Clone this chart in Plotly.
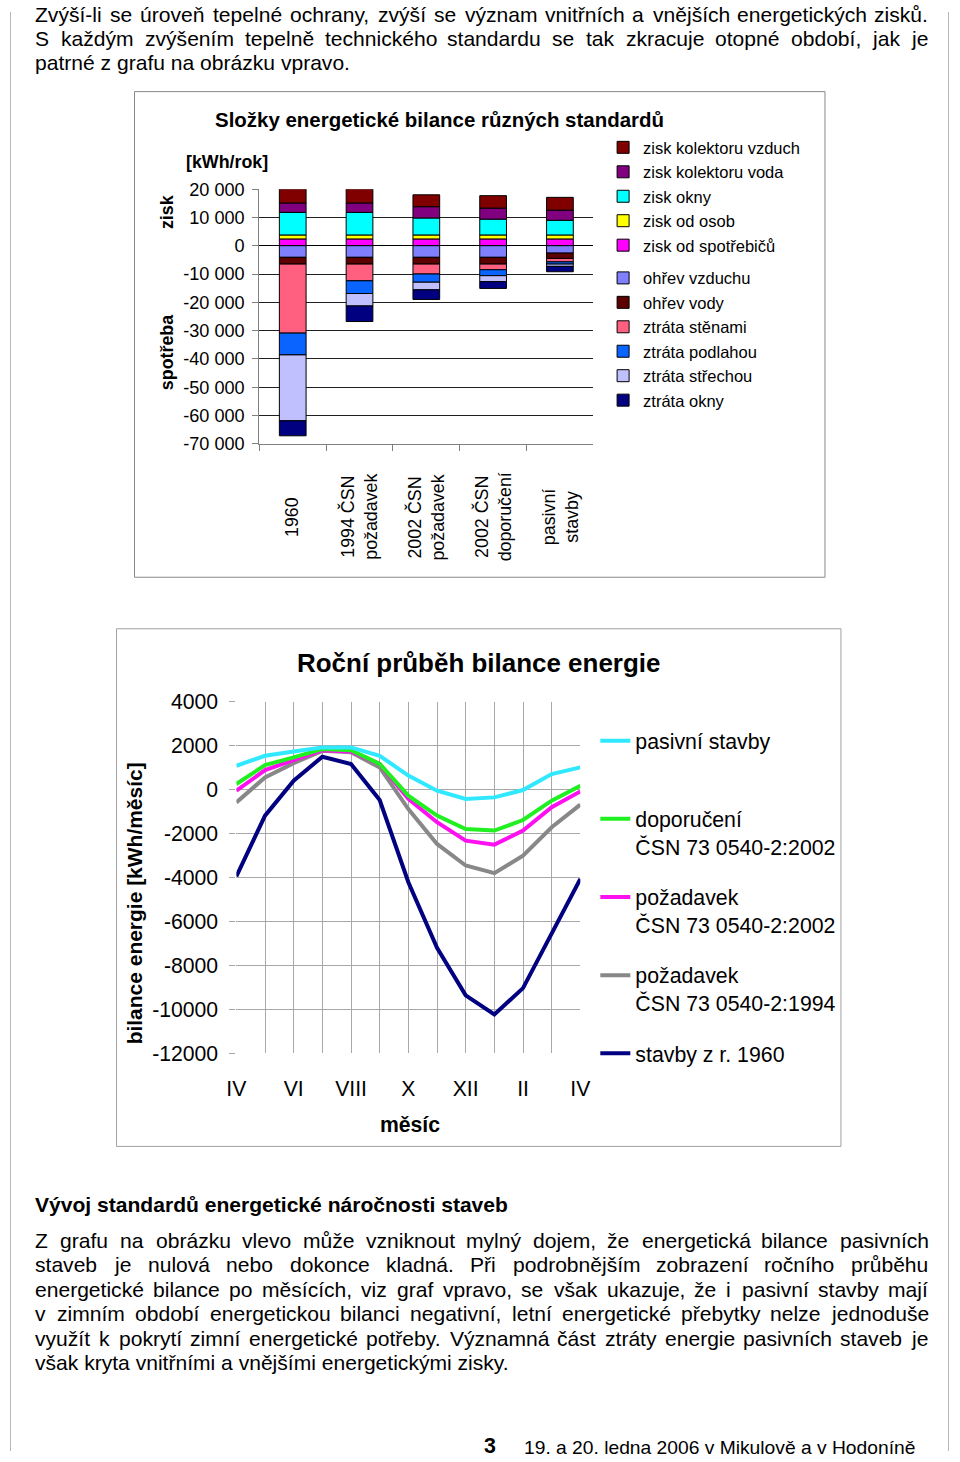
import plotly.graph_objects as go

W, H = 960, 1462
FONT = "Liberation Sans, Arial, sans-serif"

# the photographed picture shows the figure with a small border and slightly
# shrunk; these constants map reference-pixel positions onto figure pixels
AX, SX = 9.8, 0.9796
AY, SY = 11.9, 0.984
S = 0.982

# ---------------- data: top chart (annual components, kWh/rok) ----------------
standards = ["1960", "1994 ČSN<br>požadavek", "2002 ČSN<br>požadavek",
             "2002 ČSN<br>doporučení", "pasivní<br>stavby"]

# gains (stacked upward from 0, listed bottom -> top)
zisk_spotrebicu = [2400, 2400, 2400, 2400, 2400]
zisk_osob = [1400, 1400, 1400, 1400, 1400]
zisk_okny = [8000, 8000, 6000, 5600, 5200]
zisk_kolektoru_voda = [3300, 3300, 4000, 3900, 3600]
zisk_kolektoru_vzduch = [5000, 5000, 4200, 4400, 4500]

# consumption / losses (stacked downward from 0, listed top -> bottom)
ohrev_vzduchu = [-4100, -4100, -4100, -4100, -2600]
ohrev_vody = [-2400, -2400, -2400, -2400, -1900]
ztrata_stenami = [-24400, -5900, -3500, -2000, -1200]
ztrata_podlahou = [-7700, -4500, -2900, -2100, -800]
ztrata_strechou = [-23300, -4400, -2700, -2100, -800]
ztrata_okny = [-5300, -5500, -3400, -2400, -1900]

bar_tick_vals = [20000, 10000, 0, -10000, -20000, -30000, -40000, -50000, -60000, -70000]
bar_tick_text = ["20 000", "10 000", "0", "-10 000", "-20 000", "-30 000",
                 "-40 000", "-50 000", "-60 000", "-70 000"]

# ---------------- data: bottom chart (monthly balance, kWh/měsíc) ----------------
month_idx = [0, 1, 2, 3, 4, 5, 6, 7, 8, 9, 10, 11, 12]
month_labels = ["IV", "", "VI", "", "VIII", "", "X", "", "XII", "", "II", "", "IV"]

pasivni_stavby = [1090, 1545, 1740, 1925, 1925, 1545, 640, -45, -420, -350, -15, 710, 1015]
doporuceni_2002 = [260, 1120, 1470, 1850, 1800, 1170, -270, -1180, -1790, -1860, -1380, -500, 180]
pozadavek_2002 = [-45, 890, 1350, 1800, 1740, 1170, -420, -1480, -2320, -2500, -1860, -800, -80]
pozadavek_1994 = [-580, 560, 1210, 1770, 1700, 1010, -880, -2470, -3450, -3800, -3000, -1710, -680]
stavby_1960 = [-3950, -1180, 410, 1500, 1170, -470, -4210, -7200, -9360, -10230, -9030, -6560, -4060]

bal_tick_vals = [4000, 2000, 0, -2000, -4000, -6000, -8000, -10000, -12000]
bal_tick_text = ["4000", "2000", "0", "-2000", "-4000", "-6000", "-8000", "-10000", "-12000"]

# ---------------- page text ----------------
body_top = [
    "Zvýší-li se úroveň tepelné ochrany, zvýší se význam vnitřních a vnějších energetických zisků.",
    "S každým zvýšením tepelně technického standardu se tak zkracuje otopné období, jak je",
    "patrné z grafu na obrázku vpravo.",
]
heading = "Vývoj standardů energetické náročnosti staveb"
body_bottom = [
    "Z grafu na obrázku vlevo může vzniknout mylný dojem, že energetická bilance pasivních",
    "staveb je nulová nebo dokonce kladná. Při podrobnějším zobrazení ročního průběhu",
    "energetické bilance po měsících, viz graf vpravo, se však ukazuje, že i pasivní stavby mají",
    "v zimním období energetickou bilanci negativní, letní energetické přebytky nelze jednoduše",
    "využít k pokrytí zimní energetické potřeby. Významná část ztráty energie pasivních staveb je",
    "však kryta vnitřními a vnějšími energetickými zisky.",
]
footer_page = "3"
footer_text = "19. a 20. ledna 2006 v Mikulově a v Hodoníně"

# Arial / Liberation Sans advance widths (1/1000 em), used to justify lines
ADV = {' ': 278, ',': 278, '.': 278, '-': 333, ':': 278,
       'A': 667, 'B': 667, 'C': 722, 'D': 722, 'E': 667, 'F': 611, 'G': 778, 'H': 722,
       'I': 278, 'J': 500, 'K': 667, 'L': 556, 'M': 833, 'N': 722, 'O': 778, 'P': 667,
       'Q': 778, 'R': 722, 'S': 667, 'T': 611, 'U': 722, 'V': 667, 'W': 944, 'X': 667,
       'Y': 667, 'Z': 611,
       'a': 556, 'b': 556, 'c': 500, 'd': 556, 'e': 556, 'f': 278, 'g': 556, 'h': 556,
       'i': 222, 'j': 222, 'k': 500, 'l': 222, 'm': 833, 'n': 556, 'o': 556, 'p': 556,
       'q': 556, 'r': 333, 's': 500, 't': 278, 'u': 556, 'v': 500, 'w': 722, 'x': 500,
       'y': 500, 'z': 500,
       'á': 556, 'é': 556, 'í': 278, 'ó': 556, 'ú': 556, 'ý': 500, 'č': 500, 'ě': 556,
       'ň': 556, 'ř': 333, 'š': 500, 'ů': 556, 'ž': 500, 'Č': 722, 'Š': 667, 'Ž': 611}


def fx(x):
    return (x - AX) / SX


def fy(y):
    return (y - AY) / SY


def px(x):
    return fx(x) / W


def py(y):
    return 1 - fy(y) / H


def fs(v):
    return v / S


fig = go.Figure()

# ---- stacked bars ----
bar_series = [
    ("zisk od spotřebičů", zisk_spotrebicu, "#FF00FF", 5, "legend"),
    ("zisk od osob", zisk_osob, "#FFFF00", 4, "legend"),
    ("zisk okny", zisk_okny, "#00FFFF", 3, "legend"),
    ("zisk kolektoru voda", zisk_kolektoru_voda, "#800080", 2, "legend"),
    ("zisk kolektoru vzduch", zisk_kolektoru_vzduch, "#800000", 1, "legend"),
    ("ohřev vzduchu", ohrev_vzduchu, "#8080FF", 6, "legend3"),
    ("ohřev vody", ohrev_vody, "#5C0000", 7, "legend3"),
    ("ztráta stěnami", ztrata_stenami, "#FF6080", 8, "legend3"),
    ("ztráta podlahou", ztrata_podlahou, "#0A64FF", 9, "legend3"),
    ("ztráta střechou", ztrata_strechou, "#C0C0FF", 10, "legend3"),
    ("ztráta okny", ztrata_okny, "#000080", 11, "legend3"),
]
for name, vals, col, rank, leg in bar_series:
    fig.add_trace(go.Bar(
        x=standards, y=vals, name=name, xaxis="x", yaxis="y",
        marker=dict(color=col, line=dict(color="black", width=1)),
        width=0.4, legend=leg, legendrank=rank, hoverinfo="skip",
    ))

# ---- monthly lines ----
line_series = [
    ("stavby z r. 1960", stavby_1960, "#000080", 5),
    ("požadavek<br>ČSN 73 0540-2:1994", pozadavek_1994, "#888888", 4),
    ("požadavek<br>ČSN 73 0540-2:2002", pozadavek_2002, "#FF10F0", 3),
    ("doporučení<br>ČSN 73 0540-2:2002", doporuceni_2002, "#20F020", 2),
    ("pasivní stavby<br> ", pasivni_stavby, "#30E8FF", 1),
]
for name, vals, col, rank in line_series:
    fig.add_trace(go.Scatter(
        x=month_idx, y=vals, name=name, mode="lines", xaxis="x2", yaxis="y2",
        line=dict(color=col, width=4), legend="legend2", legendrank=rank,
        legendgroup=name, hoverinfo="skip",
    ))

# ---- annotations ----
ann = []


def text(x, y, s, size, bold=False, xanchor="left", angle=0, color="black", pad=1):
    ann.append(dict(
        x=px(x), y=py(y), xref="paper", yref="paper", showarrow=False,
        text=("<b>%s</b>" % s) if bold else s, xanchor=xanchor, yanchor="middle",
        textangle=angle, borderpad=pad, font=dict(family=FONT, size=fs(size), color=color),
    ))


def adv(s, size):
    return sum(ADV.get(c, 556) for c in s) * size / 1000.0


def paragraph(lines, y0, step, size, left, right):
    for i, line in enumerate(lines):
        y = y0 + i * step
        words = line.split(" ")
        if i == len(lines) - 1 or len(words) < 2:
            text(left, y, line, size, pad=0)
            continue
        natural = sum(adv(w, size) for w in words)
        gap = (right - left - natural) / (len(words) - 1)
        x = left
        for w in words:
            text(x, y, w, size, pad=0)
            x += adv(w, size) + gap


BODY = 20.7
paragraph(body_top, 14, 24.3, BODY, 34, 927)
text(34, 1204, heading, BODY, bold=True, pad=0)
paragraph(body_bottom, 1240, 24.4, BODY, 34, 927)

text(491, 1446, footer_page, 21, bold=True, xanchor="center")
text(523, 1447, footer_text, 18.9)

# top chart texts
text(440, 119, "Složky energetické bilance různých standardů", 20.1, bold=True, xanchor="center")
text(184, 162, "[kWh/rok]", 17.5, bold=True)
text(167, 212, "zisk", 17.5, bold=True, xanchor="center", angle=-90)
text(167, 352, "spotřeba", 17.5, bold=True, xanchor="center", angle=-90)
for i, s in enumerate(standards):
    ann.append(dict(x=i, y=py(517), xref="x", yref="paper", showarrow=False,
                    text=s, textangle=-90, xanchor="center", yanchor="middle",
                    font=dict(family=FONT, size=fs(17.5), color="black")))

# bottom chart texts
text(479, 663, "Roční průběh bilance energie", 25.5, bold=True, xanchor="center")
text(134, 903, "bilance energie [kWh/měsíc]", 20.6, bold=True, xanchor="center", angle=-90)
text(410, 1124, "měsíc", 20.8, bold=True, xanchor="center")

# ---- frames / page borders ----
shapes = [
    dict(type="rect", xref="paper", yref="paper", x0=px(134.5), x1=px(826), y0=py(577), y1=py(91.5),
         line=dict(color="#8a8a8a", width=1)),
    dict(type="rect", xref="paper", yref="paper", x0=px(116.5), x1=px(842), y0=py(1146), y1=py(628.5),
         line=dict(color="#a0a0a0", width=1)),
    dict(type="line", xref="paper", yref="paper", x0=max(px(4.5), 0.5 / W), x1=max(px(4.5), 0.5 / W),
         y0=0, y1=1, line=dict(color="#b8b8b8", width=1)),
    dict(type="line", xref="paper", yref="paper", x0=min(px(956.5), 1 - 0.5 / W),
         x1=min(px(956.5), 1 - 0.5 / W), y0=0, y1=1, line=dict(color="#b8b8b8", width=1)),
]

leg_font = dict(family=FONT, size=16.5, color="black")

fig.update_layout(
    width=W, height=H, autosize=False,
    margin=dict(l=0, r=0, t=0, b=0),
    paper_bgcolor="white", plot_bgcolor="white",
    font=dict(family=FONT, color="black"),
    barmode="relative", bargap=0.6,
    showlegend=True,
    xaxis=dict(domain=[px(259.5), px(594)], type="category", range=[-0.5, 4.5],
               anchor="y", showticklabels=False, ticks="outside", tickson="boundaries",
               ticklen=6, tickcolor="#808080", showline=True, linecolor="#808080",
               linewidth=1, showgrid=False, fixedrange=True),
    yaxis=dict(domain=[py(443.5), py(189)], range=[-70000, 20000], anchor="x",
               tickvals=bar_tick_vals, ticktext=bar_tick_text,
               tickfont=dict(family=FONT, size=fs(17.8), color="black"),
               ticks="outside", ticklen=6, tickcolor="#808080",
               showline=True, linecolor="#808080", linewidth=1,
               showgrid=True, gridcolor="#202020", gridwidth=1,
               zeroline=True, zerolinecolor="black", zerolinewidth=1.5,
               ticklabelstandoff=4, fixedrange=True),
    xaxis2=dict(domain=[px(236.5), px(581)], range=[0, 12], anchor="y2",
                tickvals=month_idx, ticktext=month_labels,
                tickfont=dict(family=FONT, size=fs(20.8), color="black"),
                ticks="", showline=False, showgrid=True, gridcolor="#a8a8a8",
                gridwidth=1, zeroline=False, ticklabelstandoff=20, fixedrange=True),
    yaxis2=dict(domain=[py(1053), py(701.5)], range=[-12000, 4000], anchor="x2",
                tickvals=bal_tick_vals, ticktext=bal_tick_text,
                tickfont=dict(family=FONT, size=fs(20.8), color="black"),
                ticks="outside", ticklen=6, tickcolor="#a8a8a8",
                showline=False, showgrid=True, gridcolor="#a8a8a8", gridwidth=1,
                zeroline=False, ticklabelstandoff=7, fixedrange=True),
    legend=dict(x=px(603.8), y=py(130), xanchor="left", yanchor="top",
                font=leg_font, traceorder="normal",
                bgcolor="rgba(0,0,0,0)", borderwidth=0),
    legend3=dict(x=px(603.8), y=py(260.5), xanchor="left", yanchor="top",
                 font=leg_font, traceorder="normal",
                 bgcolor="rgba(0,0,0,0)", borderwidth=0),
    legend2=dict(x=px(596), y=py(720), xanchor="left", yanchor="top",
                 font=dict(family=FONT, size=21.3, color="black"),
                 traceorder="grouped", tracegroupgap=19.8, valign="top",
                 bgcolor="rgba(0,0,0,0)", borderwidth=0),
    annotations=ann,
    shapes=shapes,
)

fig.write_html(
    "out.html",
    config={"displayModeBar": False, "staticPlot": True},
    post_script="document.body.style.margin='0';document.body.style.overflow='hidden';",
)
